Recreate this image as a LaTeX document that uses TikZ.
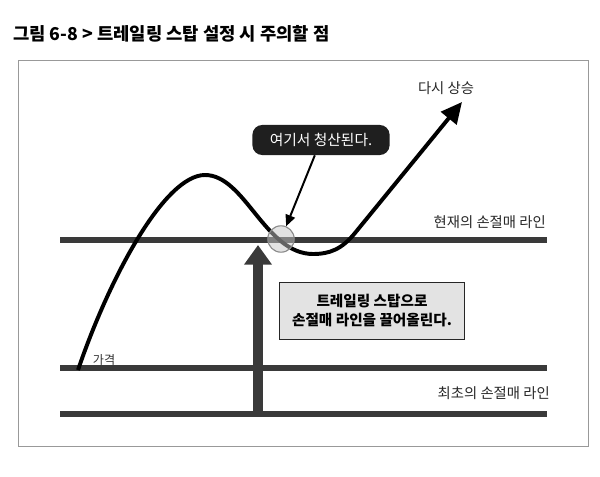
\documentclass[tikz,border=0pt]{standalone}
\usepackage{fontspec}
\setmainfont{Noto Sans CJK KR}
\usepackage{xcolor}
\usepackage{tikz}
\usetikzlibrary{arrows, arrows.meta, calc}
\definecolor{linegray}{HTML}{3A3A3A}
\tikzset{
    >=latex',
    frame/.style={gray!80, line width=0.6pt},
    stopline/.style={linegray, line width=4.2pt},
    price/.style={black, line width=2.8pt, line join=round, -{Triangle[length=15pt, width=14pt]}},
    liftarrow/.style={linegray, line width=7.5pt, -{Triangle[length=14pt, width=19pt]}},
    pointer/.style={black, line width=1.4pt, -{Triangle[length=8pt, width=7pt]}},
    figtitle/.style={font=\fontsize{12.6}{14}\selectfont\bfseries, inner sep=0pt},
    linelabel/.style={font=\fontsize{10.2}{12}\selectfont, text=black!85, inner sep=0pt},
    smalllabel/.style={font=\fontsize{8.6}{10}\selectfont, text=black!80, inner sep=0pt},
    callout/.style={fill=black!88, text=white, rounded corners=7pt,
        minimum width=3.43cm, minimum height=0.75cm, font=\fontsize{10.5}{12}\selectfont},
    notebox/.style={fill=gray!22, draw=black!85, line width=1.2pt, align=center,
        minimum width=4.63cm, minimum height=1.43cm, font=\fontsize{10.4}{13.5}\selectfont\bfseries},
    hitmark/.style={circle, minimum size=0.66cm, inner sep=0pt, draw=gray!90,
        line width=0.8pt, fill=gray!45, fill opacity=0.5},
}

\begin{document}
\begin{tikzpicture}[x=0.025cm, y=0.025cm]
    \useasboundingbox (0,0) rectangle (600,476);
    \node[figtitle, anchor=west] (T) at (13,442) {그림 6-8 > 트레일링 스탑 설정 시 주의할 점};
    \draw[frame] (18,30) rectangle (588,416);
    \foreach \y in {236,108,62}
        \draw[stopline] (60,\y) -- (547,\y);
    \node[linelabel, anchor=east] (L_cur) at (546,254) {현재의 손절매 라인};
    \node[linelabel, anchor=east] (L_init) at (550,83) {최초의 손절매 라인};
    \coordinate (lift0) at (258,62);
    \coordinate (lift1) at (258,231);
    \draw[liftarrow] (lift0) -- (lift1);
    \node[notebox] (note) at (372,165) {트레일링 스탑으로\\손절매 라인을 끌어올린다.};
    \draw[price] (78,106) .. controls (110,200) and (165,301) .. (205,301)
        .. controls (245,301) and (265,222) .. (313,222)
        .. controls (330,222) and (342,227) .. (355,243) -- (462,374);
    \node[smalllabel] (P) at (104,116) {가격};
    \node[linelabel] (R) at (446,388) {다시 상승};
    \node[hitmark] (hit) at (281,237) {};
    \node[callout] (exit) at (321,336) {여기서 청산된다.};
    \draw[pointer] (exit) -- (hit);
\end{tikzpicture}
\end{document}
